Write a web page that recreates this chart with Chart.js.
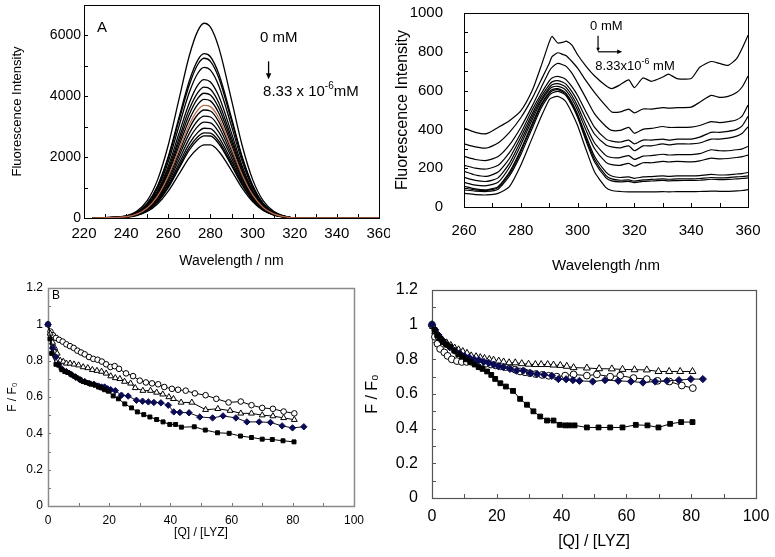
<!DOCTYPE html>
<html>
<head>
<meta charset="utf-8">
<script src="https://cdn.jsdelivr.net/npm/chart.js@4.4.1/dist/chart.umd.min.js"></script>
<style>
  body { margin: 0; background: #fff; }
  #wrap { position: relative; width: 775px; height: 557px; overflow: hidden; background: #fff; }
  canvas { position: absolute; }
</style>
</head>
<body>
<div id="wrap">
  <canvas id="chartA" width="390" height="275" style="left:0;top:0"></canvas>
  <canvas id="chartR" width="385" height="275" style="left:390px;top:0"></canvas>
  <canvas id="chartB" width="375" height="282" style="left:0;top:275px"></canvas>
  <canvas id="chartD" width="415" height="282" style="left:360px;top:275px"></canvas>
</div>
<script>
// ---- panel A: emission spectra, 0 mM -> 8.33e-6 mM ----
const wlA = [224, 235, 240, 245, 250, 255, 260, 265, 270, 274, 277, 280, 284, 290, 295, 300, 305, 310, 315, 320, 360];
const spectraA = [
  [0, 30, 70, 220, 570, 1270, 2400, 3880, 5340, 6150, 6400, 6270, 5590, 3880, 2400, 1270, 570, 220, 70, 0, 0],
  [0, 27, 60, 185, 480, 1070, 2020, 3280, 4510, 5190, 5400, 5300, 4730, 3290, 2030, 1080, 480, 185, 60, 0, 0],
  [0, 26, 58, 180, 465, 1040, 1970, 3190, 4380, 5045, 5250, 5150, 4600, 3200, 1980, 1050, 470, 180, 58, 0, 0],
  [0, 25, 54, 168, 440, 980, 1850, 3000, 4130, 4757, 4950, 4860, 4340, 3020, 1870, 990, 445, 170, 54, 0, 0],
  [0, 23, 50, 155, 405, 900, 1700, 2760, 3790, 4370, 4550, 4470, 4000, 2790, 1720, 910, 410, 157, 50, 0, 0],
  [0, 22, 47, 146, 380, 850, 1610, 2600, 3580, 4120, 4300, 4230, 3780, 2640, 1630, 865, 390, 150, 48, 0, 0],
  [0, 21, 45, 140, 365, 810, 1530, 2480, 3410, 3930, 4100, 4040, 3610, 2520, 1560, 830, 375, 145, 46, 0, 0],
  [0, 20, 43, 133, 345, 770, 1455, 2355, 3240, 3735, 3900, 3850, 3445, 2410, 1495, 795, 360, 140, 44, 0, 0],
  [0, 19, 41, 126, 328, 730, 1380, 2235, 3075, 3545, 3700, 3660, 3285, 2300, 1430, 765, 345, 135, 42, 0, 0],
  [0, 18, 39, 121, 315, 700, 1320, 2140, 2950, 3400, 3550, 3515, 3160, 2215, 1380, 740, 335, 130, 40, 0, 0],
  [0, 17, 37, 114, 297, 660, 1245, 2020, 2780, 3205, 3350, 3320, 2990, 2100, 1310, 705, 320, 125, 38, 0, 0],
  [0, 16, 35, 107, 280, 620, 1170, 1895, 2610, 3010, 3150, 3125, 2820, 1985, 1245, 670, 305, 120, 36, 0, 0],
  [0, 15, 32, 100, 262, 580, 1095, 1775, 2445, 2815, 2950, 2935, 2650, 1870, 1175, 635, 290, 113, 34, 0, 0],
  [0, 14, 31, 95, 248, 550, 1040, 1685, 2320, 2670, 2800, 2790, 2525, 1785, 1125, 610, 278, 108, 32, 0, 0],
  [0, 14, 30, 92, 240, 530, 1000, 1620, 2235, 2575, 2700, 2695, 2440, 1730, 1090, 590, 270, 105, 31, 0, 0],
  [0, 12, 27, 82, 212, 470, 885, 1435, 1985, 2285, 2400, 2400, 2185, 1560, 990, 540, 250, 98, 29, 0, 0]
];
const brownIndexA = 8;
const xTicksA = [220, 240, 260, 280, 300, 320, 340, 360];
const yTicksA = [0, 2000, 4000, 6000];

// ---- top right: spectra 260-360 nm ----
const wlR = [260, 264, 268, 272, 276, 280, 284, 287, 290, 291, 293, 295, 296, 298, 300, 303, 306, 310, 312, 315, 318, 320, 323, 326, 330, 332, 335, 340, 343, 347, 350, 353, 356, 358, 360];
const spectraR = [
  [407, 385, 378, 410, 445, 495, 600, 720, 850, 880, 845, 850, 855, 835, 785, 725, 675, 625, 610, 630, 655, 615, 665, 648, 670, 685, 662, 662, 720, 750, 740, 730, 765, 820, 885],
  [326, 310, 304, 330, 385, 460, 560, 650, 740, 775, 795, 785, 780, 750, 716, 650, 590, 520, 490, 490, 505, 485, 505, 505, 512, 510, 512, 515, 540, 575, 565, 570, 590, 620, 675],
  [261, 245, 240, 260, 320, 410, 520, 610, 700, 720, 740, 732, 725, 690, 640, 560, 480, 415, 395, 395, 410, 380, 400, 405, 415, 410, 410, 412, 420, 440, 435, 440, 450, 470, 525],
  [215, 200, 196, 215, 280, 380, 500, 580, 650, 665, 673, 665, 655, 620, 575, 490, 410, 350, 340, 335, 345, 325, 345, 345, 350, 345, 350, 350, 360, 385, 385, 390, 400, 420, 467],
  [184, 165, 158, 180, 250, 360, 480, 565, 630, 645, 651, 642, 632, 595, 545, 455, 375, 320, 310, 305, 315, 290, 315, 315, 325, 320, 325, 325, 330, 350, 350, 355, 365, 380, 413],
  [153, 137, 132, 150, 225, 340, 465, 550, 615, 630, 636, 626, 615, 575, 520, 420, 330, 265, 255, 255, 265, 245, 262, 265, 272, 268, 270, 270, 275, 295, 290, 290, 295, 300, 312],
  [127, 113, 110, 128, 205, 320, 450, 540, 605, 618, 622, 612, 600, 558, 500, 395, 300, 230, 218, 215, 225, 210, 228, 228, 235, 232, 235, 233, 238, 252, 248, 250, 255, 260, 267],
  [107, 93, 89, 105, 180, 295, 430, 525, 592, 605, 610, 598, 585, 540, 478, 365, 260, 180, 160, 152, 155, 148, 155, 157, 160, 158, 160, 160, 162, 168, 165, 166, 170, 172, 178],
  [98, 88, 85, 100, 170, 285, 420, 518, 585, 598, 605, 592, 580, 533, 470, 352, 245, 162, 145, 138, 140, 133, 140, 142, 145, 143, 145, 145, 147, 152, 150, 151, 155, 157, 160],
  [88, 82, 80, 92, 160, 270, 405, 505, 575, 588, 596, 585, 573, 525, 462, 340, 232, 150, 135, 130, 132, 126, 132, 134, 137, 135, 136, 137, 138, 143, 141, 142, 145, 147, 150],
  [70, 64, 62, 70, 105, 215, 355, 460, 553, 563, 570, 555, 540, 485, 420, 295, 180, 100, 85, 80, 78, 78, 78, 78, 79, 78, 79, 79, 80, 82, 81, 81, 83, 85, 90]
];
const xTicksR = [260, 280, 300, 320, 340, 360];
const yTicksR = [0, 200, 400, 600, 800, 1000];

// ---- panel B: F/F0 vs [Q]/[LYZ] ----
const bCircX = [0, 0.8, 1.6, 2.6, 3.6, 4.8, 6, 7.2, 8.4, 9.6, 10.8, 12, 13.4, 14.8, 16.2, 17.6, 19, 20.4, 21.8, 23.2, 25.5, 27.8, 30, 32, 34, 36, 38, 40.5, 42.5, 45, 48, 51.5, 55, 59, 63, 66.5, 70, 73.5, 77, 80.5];
const bCircY = [1.0, 0.96, 0.94, 0.925, 0.915, 0.905, 0.89, 0.88, 0.87, 0.855, 0.845, 0.835, 0.82, 0.81, 0.805, 0.795, 0.78, 0.765, 0.77, 0.755, 0.73, 0.715, 0.69, 0.68, 0.675, 0.67, 0.655, 0.645, 0.64, 0.635, 0.62, 0.61, 0.59, 0.57, 0.575, 0.555, 0.54, 0.535, 0.52, 0.51];
const bTriX = [0, 0.7, 1.5, 2.2, 3, 4, 5, 6, 7.2, 8.5, 10, 11.5, 13, 14.5, 16, 17.5, 19, 20.5, 22, 23.5, 25, 27, 28.5, 31, 33.5, 35.5, 37.5, 39.5, 41, 43.5, 47, 51.5, 55.5, 59.5, 63, 66.5, 70, 73.5, 77, 80.5];
const bTriY = [1.0, 0.95, 0.9, 0.87, 0.84, 0.8, 0.795, 0.785, 0.785, 0.78, 0.775, 0.765, 0.76, 0.75, 0.745, 0.74, 0.73, 0.715, 0.705, 0.7, 0.685, 0.675, 0.65, 0.635, 0.635, 0.625, 0.615, 0.6, 0.59, 0.57, 0.57, 0.53, 0.535, 0.525, 0.51, 0.51, 0.5, 0.495, 0.485, 0.475];
const bDiaX = [0, 1.5, 2.5, 3.5, 4.5, 6, 7.5, 9, 10.5, 12, 13.5, 15, 16.5, 17.5, 18.5, 19.5, 20.5, 22, 24, 26.2, 28.9, 30.9, 32.8, 34.6, 36.9, 39.3, 41.1, 43.1, 46.1, 49.6, 53.8, 57.2, 61.4, 65, 69, 72.7, 76.5, 79.9, 83.6];
const bDiaY = [1.0, 0.87, 0.82, 0.78, 0.755, 0.74, 0.725, 0.71, 0.695, 0.685, 0.675, 0.67, 0.66, 0.655, 0.655, 0.645, 0.64, 0.635, 0.61, 0.605, 0.582, 0.577, 0.573, 0.57, 0.568, 0.555, 0.518, 0.515, 0.513, 0.49, 0.485, 0.496, 0.485, 0.463, 0.463, 0.46, 0.441, 0.43, 0.436];
const bSqX = [0.65, 1.2, 2.6, 3.5, 4.5, 5.5, 6.5, 7.5, 8.5, 9.5, 10.5, 11.5, 12.5, 13.5, 14.5, 15.5, 16.5, 17.5, 18.5, 19.7, 21.3, 23, 25.1, 27.3, 29.2, 31.3, 33.3, 35.5, 37.6, 39.8, 41.7, 43.6, 47.8, 51.4, 55.4, 59.2, 62.9, 66.5, 70, 73.3, 76.8, 80.4];
const bSqY = [0.92, 0.84, 0.78, 0.775, 0.75, 0.74, 0.735, 0.725, 0.715, 0.705, 0.695, 0.685, 0.68, 0.675, 0.67, 0.665, 0.655, 0.65, 0.64, 0.632, 0.606, 0.59, 0.562, 0.54, 0.518, 0.503, 0.49, 0.476, 0.463, 0.449, 0.449, 0.434, 0.436, 0.418, 0.403, 0.4, 0.385, 0.377, 0.368, 0.366, 0.359, 0.353];

// ---- bottom right ----
const dTriX = [0, 0.3, 1, 2.1, 3.3, 4.5, 5.8, 7, 8.2, 9.5, 10.8, 12.1, 13.6, 14.9, 16.2, 17.7, 19, 20.6, 22.1, 23.8, 25.7, 27.7, 29.8, 31.9, 33.7, 35.7, 37.5, 39.6, 41.6, 43.7, 47.8, 51.6, 55.5, 58.8, 62.5, 66.3, 69.9, 73.2, 76.6, 80.4];
const dTriY = [1.0, 0.99, 0.96, 0.93, 0.91, 0.895, 0.88, 0.865, 0.855, 0.845, 0.835, 0.82, 0.815, 0.81, 0.805, 0.8, 0.795, 0.79, 0.785, 0.78, 0.78, 0.775, 0.772, 0.77, 0.77, 0.77, 0.767, 0.765, 0.76, 0.752, 0.75, 0.746, 0.745, 0.742, 0.74, 0.739, 0.73, 0.73, 0.73, 0.73];
const dCircX = [0, 0.9, 1.7, 2.5, 3.8, 4.8, 6.1, 7.7, 9.2, 10.7, 12.2, 13.7, 15.2, 16.7, 18.2, 19.7, 21.2, 22.7, 24.2, 25.7, 27.2, 28.7, 30.2, 32, 34, 36, 38.5, 41.1, 43.7, 47.8, 50.9, 55, 58.1, 62.2, 66.3, 69.6, 73.3, 77.1, 80.5];
const dCircY = [1.0, 0.93, 0.89, 0.86, 0.84, 0.82, 0.8, 0.79, 0.785, 0.785, 0.785, 0.78, 0.78, 0.775, 0.77, 0.765, 0.76, 0.755, 0.75, 0.74, 0.73, 0.725, 0.72, 0.715, 0.71, 0.705, 0.7, 0.706, 0.713, 0.706, 0.713, 0.7, 0.706, 0.692, 0.686, 0.676, 0.672, 0.649, 0.634];
const dDiaX = [0, 1, 2, 3, 4.2, 5.5, 7, 8.5, 10, 11.5, 13, 14.5, 16, 17.5, 19, 20.5, 22, 24.1, 26.1, 28.2, 30.3, 32.4, 34.6, 37, 39, 41.4, 43.5, 45.5, 49.6, 53.4, 57.5, 61.4, 65.1, 68.9, 72.5, 76.2, 79.9, 83.6];
const dDiaY = [1.0, 0.97, 0.94, 0.915, 0.89, 0.87, 0.85, 0.835, 0.82, 0.81, 0.8, 0.795, 0.785, 0.78, 0.77, 0.76, 0.755, 0.745, 0.735, 0.735, 0.72, 0.715, 0.711, 0.705, 0.686, 0.685, 0.68, 0.676, 0.672, 0.68, 0.676, 0.672, 0.666, 0.672, 0.676, 0.68, 0.686, 0.686];
const dSqX = [0.8, 1.6, 2.5, 3.4, 4.4, 5.6, 6.9, 8.1, 9.3, 10.5, 11.8, 13.2, 14.4, 15.6, 17, 18.3, 19.5, 21.1, 22.8, 25, 27.2, 29.3, 31.3, 33.4, 35.5, 37.5, 39.4, 41.1, 42.4, 44, 47.8, 51.4, 55, 58.8, 62.9, 66.5, 69.9, 73.5, 76.9, 80.4];
const dSqY = [0.97, 0.94, 0.92, 0.9, 0.885, 0.873, 0.85, 0.83, 0.815, 0.8, 0.785, 0.77, 0.755, 0.745, 0.73, 0.71, 0.687, 0.662, 0.643, 0.618, 0.572, 0.538, 0.5, 0.47, 0.447, 0.447, 0.422, 0.419, 0.419, 0.419, 0.407, 0.407, 0.407, 0.407, 0.422, 0.419, 0.407, 0.428, 0.438, 0.438];

const ratioXTicks = [0, 20, 40, 60, 80, 100];
const ratioYTicks = [0, 0.2, 0.4, 0.6, 0.8, 1, 1.2];

const BASE_FONT = "'Liberation Sans', Arial, sans-serif";
const BROWN = '#b86a4a';
const NAVY = '#0b0b55';

Chart.defaults.font.family = BASE_FONT;
Chart.defaults.color = '#000';
Chart.defaults.animation = false;

// frame around the plot + small inner tick marks
const framePlugin = {
  id: 'frame',
  beforeDatasetsDraw(chart, args, o) {
    const {ctx, chartArea: a, scales: {x, y}} = chart;
    ctx.save();
    ctx.lineWidth = 1;
    ctx.strokeStyle = o.tickColor;
    ctx.beginPath();
    for (let v = x.min; v <= x.max + 1e-6; v += o.xStep) {
      const px = Math.round(x.getPixelForValue(v)) + 0.5;
      ctx.moveTo(px, a.bottom);
      ctx.lineTo(px, a.bottom - o.len);
    }
    for (let v = y.min; v <= y.max + 1e-6; v += o.yStep) {
      const py = Math.round(y.getPixelForValue(v)) + 0.5;
      ctx.moveTo(a.left, py);
      ctx.lineTo(a.left + o.len, py);
    }
    ctx.stroke();
    ctx.strokeStyle = o.color;
    ctx.lineWidth = o.width;
    ctx.strokeRect(Math.round(a.left) + 0.5, Math.round(a.top) + 0.5, Math.round(a.right - a.left), Math.round(a.bottom - a.top));
    ctx.restore();
  }
};

// text notes placed in data coordinates
const notesPlugin = {
  id: 'notes',
  afterDraw(chart, args, o) {
    if (!o.draw) return;
    const {ctx, scales: {x, y}} = chart;
    ctx.save();
    ctx.fillStyle = '#000';
    ctx.strokeStyle = '#000';
    ctx.textBaseline = 'middle';
    o.draw(ctx, (vx, vy) => [x.getPixelForValue(vx), y.getPixelForValue(vy)]);
    ctx.restore();
  }
};

function superText(ctx, px, py, size, before, sup, after) {
  ctx.font = size + 'px ' + BASE_FONT;
  ctx.fillText(before, px, py);
  let w = ctx.measureText(before).width;
  ctx.font = Math.round(size * 0.68) + 'px ' + BASE_FONT;
  ctx.fillText(sup, px + w, py - size * 0.42);
  w += ctx.measureText(sup).width;
  ctx.font = size + 'px ' + BASE_FONT;
  ctx.fillText(after, px + w, py);
}

function arrowHead(ctx, x, y, dir, s) {
  ctx.beginPath();
  if (dir === 'down') { ctx.moveTo(x - s * 0.45, y - s); ctx.lineTo(x + s * 0.45, y - s); ctx.lineTo(x, y); }
  else { ctx.moveTo(x - s, y - s * 0.45); ctx.lineTo(x - s, y + s * 0.45); ctx.lineTo(x, y); }
  ctx.closePath();
  ctx.fill();
}

function axes(o) {
  return {
    x: {
      type: 'linear', min: o.xMin, max: o.xMax,
      grid: {display: false, drawTicks: false}, border: {display: false},
      afterBuildTicks: s => { s.ticks = o.xTicks.map(v => ({value: v})); },
      afterFit: s => { s.height = o.xH; s.paddingLeft = 0; s.paddingRight = 0; },
      ticks: {font: {size: o.xTickSize}, padding: o.xPad, maxRotation: 0, autoSkip: false, callback: v => String(v)},
      title: {display: true, text: o.xTitle, font: {size: o.xTitleSize}, padding: {top: 0, bottom: o.xTitlePad}}
    },
    y: {
      type: 'linear', min: o.yMin, max: o.yMax,
      grid: {display: false, drawTicks: false}, border: {display: false},
      afterBuildTicks: s => { s.ticks = o.yTicks.map(v => ({value: v})); },
      afterFit: s => { s.width = o.yW; s.paddingTop = 0; s.paddingBottom = 0; },
      ticks: {font: {size: o.yTickSize}, padding: o.yPad, autoSkip: false, callback: v => String(+v.toFixed(2))},
      title: {display: true, text: o.yTitle, font: {size: o.yTitleSize}, padding: {top: o.yTitlePad, bottom: 0}}
    }
  };
}

function pts(xs, ys) {
  return xs.map((x, i) => ({x, y: ys[i]}));
}

function baseOptions(padding, scales, frame, notes) {
  return {
    responsive: false,
    animation: false,
    layout: {padding},
    scales,
    plugins: {legend: {display: false}, tooltip: {enabled: false}, frame, notes: {draw: notes}}
  };
}

// ---- panel A ----
new Chart(document.getElementById('chartA'), {
  type: 'line',
  data: {
    datasets: spectraA.map((ys, i) => ({
      data: pts(wlA, ys),
      borderColor: i === brownIndexA ? BROWN : '#000',
      borderWidth: 1.3,
      pointRadius: 0,
      cubicInterpolationMode: 'monotone',
      order: i === brownIndexA ? -1 : 0
    }))
  },
  options: baseOptions(
    {left: 0, top: 5, right: 11, bottom: 0},
    axes({xMin: 220, xMax: 360, xTicks: xTicksA, xH: 57, xTickSize: 15, xPad: 7, xTitle: 'Wavelength / nm', xTitleSize: 14, xTitlePad: 5,
          yMin: 0, yMax: 7000, yTicks: yTicksA, yW: 84, yTickSize: 14, yPad: 3, yTitle: 'Fluorescence Intensity', yTitleSize: 13, yTitlePad: 10}),
    {color: '#000', width: 1, tickColor: '#000', xStep: 10, yStep: 1000, len: 4},
    (ctx, p) => {
      ctx.font = '15px ' + BASE_FONT;
      let [px, py] = p(226.2, 6264);
      ctx.fillText('A', px, py);
      [px, py] = p(303.5, 5904);
      ctx.fillText('0 mM', px, py);
      const [ax, ay1] = p(307.6, 5150);
      const [, ay2] = p(307.6, 4560);
      ctx.lineWidth = 1.3;
      ctx.beginPath(); ctx.moveTo(ax, ay1); ctx.lineTo(ax, ay2 - 5); ctx.stroke();
      arrowHead(ctx, ax, ay2, 'down', 6);
      [px, py] = p(305, 4131);
      superText(ctx, px, py, 15, '8.33 x 10', '-6', 'mM');
    }
  ),
  plugins: [framePlugin, notesPlugin]
});

// ---- top right ----
new Chart(document.getElementById('chartR'), {
  type: 'line',
  data: {
    datasets: spectraR.map(ys => ({
      data: pts(wlR, ys),
      borderColor: '#000',
      borderWidth: 1.2,
      pointRadius: 0,
      tension: 0.2
    }))
  },
  options: baseOptions(
    {left: 0, top: 13, right: 27, bottom: 0},
    axes({xMin: 260, xMax: 360, xTicks: xTicksR, xH: 68, xTickSize: 15, xPad: 15, xTitle: 'Wavelength /nm', xTitleSize: 15, xTitlePad: 0,
          yMin: 0, yMax: 1000, yTicks: yTicksR, yW: 74, yTickSize: 15, yPad: 21, yTitle: 'Fluorescence Intensity', yTitleSize: 16, yTitlePad: 3}),
    {color: '#000', width: 1, tickColor: '#000', xStep: 10, yStep: 100, len: 4},
    (ctx, p) => {
      ctx.font = '13px ' + BASE_FONT;
      let [px, py] = p(304.4, 929);
      ctx.fillText('0 mM', px, py);
      const [ax, ay1] = p(307.2, 883);
      const [bx, ay2] = p(315.7, 800);
      ctx.lineWidth = 1.2;
      ctx.beginPath(); ctx.moveTo(ax, ay1); ctx.lineTo(ax, ay2 - 3); ctx.stroke();
      arrowHead(ctx, ax, ay2, 'down', 4);
      ctx.beginPath(); ctx.moveTo(ax, ay2); ctx.lineTo(bx - 4, ay2); ctx.stroke();
      arrowHead(ctx, bx, ay2, 'right', 5);
      [px, py] = p(306.2, 723);
      superText(ctx, px, py, 13, '8.33x10', '-6', ' mM');
    }
  ),
  plugins: [framePlugin, notesPlugin]
});

function markerSet(xs, ys, style, fill, radius, lineColor) {
  return {
    data: pts(xs, ys),
    borderColor: lineColor,
    borderWidth: 1,
    pointStyle: style,
    pointRadius: radius,
    pointBackgroundColor: fill,
    pointBorderColor: fill === '#fff' ? '#000' : fill,
    pointBorderWidth: 1,
    clip: 8
  };
}

// ---- panel B ----  (first dataset ends up on top)
new Chart(document.getElementById('chartB'), {
  type: 'line',
  data: {
    datasets: [
      markerSet(bSqX, bSqY, 'rect', '#000', 2.8, '#000'),
      markerSet(bDiaX, bDiaY, 'rectRot', NAVY, 3.2, '#111'),
      markerSet(bTriX, bTriY, 'triangle', '#fff', 3.4, '#000'),
      markerSet(bCircX, bCircY, 'circle', '#fff', 2.8, '#000')
    ]
  },
  options: baseOptions(
    {left: 0, top: 13, right: 21, bottom: 0},
    axes({xMin: 0, xMax: 100, xTicks: ratioXTicks, xH: 51, xTickSize: 12, xPad: 7, xTitle: '[Q] / [LYZ]', xTitleSize: 12, xTitlePad: 17,
          yMin: 0, yMax: 1.2, yTicks: ratioYTicks, yW: 48, yTickSize: 12, yPad: 5, yTitle: 'F / F\u2080', yTitleSize: 12, yTitlePad: 5}),
    {color: '#8a8a8a', width: 1.5, tickColor: '#777', xStep: 10, yStep: 0.1, len: 3},
    (ctx, p) => {
      ctx.font = '12px ' + BASE_FONT;
      const [px, py] = p(1.3, 1.16);
      ctx.fillText('B', px, py);
    }
  ),
  plugins: [framePlugin, notesPlugin]
});

// ---- bottom right ----
new Chart(document.getElementById('chartD'), {
  type: 'line',
  data: {
    datasets: [
      markerSet(dSqX, dSqY, 'rect', '#000', 3.4, '#000'),
      markerSet(dDiaX, dDiaY, 'rectRot', NAVY, 3.6, '#111'),
      markerSet(dTriX, dTriY, 'triangle', '#fff', 4, '#000'),
      markerSet(dCircX, dCircY, 'circle', '#fff', 3.4, '#000')
    ]
  },
  options: baseOptions(
    {left: 0, top: 15, right: 19, bottom: 0},
    axes({xMin: 0, xMax: 100, xTicks: ratioXTicks, xH: 59, xTickSize: 16, xPad: 9, xTitle: '[Q] / [LYZ]', xTitleSize: 16, xTitlePad: 6,
          yMin: 0, yMax: 1.2, yTicks: ratioYTicks, yW: 72, yTickSize: 16, yPad: 14, yTitle: 'F / F\u2080', yTitleSize: 16, yTitlePad: 3}),
    {color: '#555', width: 1.2, tickColor: '#555', xStep: 10, yStep: 0.1, len: 4},
    null
  ),
  plugins: [framePlugin, notesPlugin]
});
</script>
</body>
</html>
